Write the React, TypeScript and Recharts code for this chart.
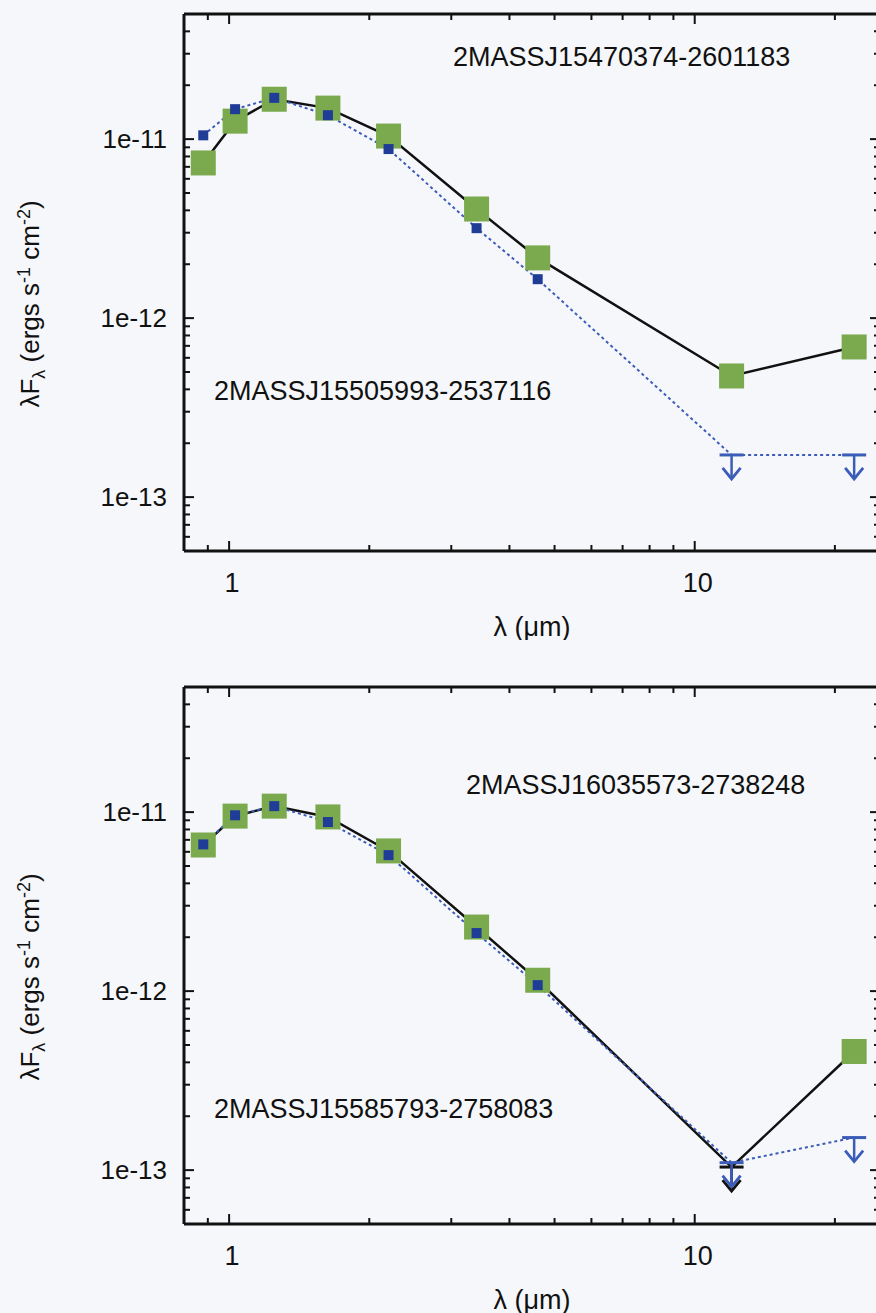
import { Line, LineChart, XAxis, YAxis } from "recharts";

// wavelengths (um): Z, Y, J, H, K, W1, W2, W3, W4
const wavelengths = [0.88, 1.03, 1.25, 1.63, 2.2, 3.4, 4.6, 12, 22];

const topObs = [7.36e-12, 1.26e-11, 1.67e-11, 1.49e-11, 1.04e-11, 4.07e-12, 2.17e-12, 4.75e-13, 6.9e-13];
const topObsLimit = [false, false, false, false, false, false, false, false, false];
const topModel = [1.05e-11, 1.47e-11, 1.7e-11, 1.36e-11, 8.8e-12, 3.18e-12, 1.65e-12, 1.72e-13, 1.72e-13];
const topModelLimit = [false, false, false, false, false, false, false, true, true];

const botObs = [6.55e-12, 9.5e-12, 1.08e-11, 9.4e-12, 6.07e-12, 2.28e-12, 1.15e-12, 1.04e-13, 4.6e-13];
const botObsLimit = [false, false, false, false, false, false, false, true, false];
const botModel = [6.6e-12, 9.6e-12, 1.08e-11, 8.8e-12, 5.75e-12, 2.11e-12, 1.08e-12, 1.1e-13, 1.52e-13];
const botModelLimit = [false, false, false, false, false, false, false, true, true];

const xMajor = [1, 10];
const xMinor = [0.9, 2, 3, 4, 5, 6, 7, 8, 9, 20];
const yMajor = [1e-13, 1e-12, 1e-11];
const yMinor = [
  6e-14, 7e-14, 8e-14, 9e-14,
  2e-13, 3e-13, 4e-13, 5e-13, 6e-13, 7e-13, 8e-13, 9e-13,
  2e-12, 3e-12, 4e-12, 5e-12, 6e-12, 7e-12, 8e-12, 9e-12,
  2e-11, 3e-11, 4e-11,
];
const yLabels = ["1e-13", "1e-12", "1e-11"];

const FONT = "'Liberation Sans', Arial, Helvetica, sans-serif";
const GREEN = "#7aaa4d";
const BLUE_LINE = "#3b5cb8";
const BLUE_DOT = "#1f3d96";

const isMajor = (v: number, majors: number[]) =>
  majors.some((m) => Math.abs(v - m) / m < 1e-6);

function UpperLimit({ cx, cy, color }: any) {
  return (
    <g>
      <line x1={cx - 12} x2={cx + 12} y1={cy} y2={cy} stroke={color} strokeWidth={3} />
      <line x1={cx} x2={cx} y1={cy} y2={cy + 24} stroke={color} strokeWidth={2.5} />
      <polyline
        points={`${cx - 9},${cy + 13} ${cx},${cy + 24} ${cx + 9},${cy + 13}`}
        fill="none"
        stroke={color}
        strokeWidth={2.8}
      />
    </g>
  );
}

function BottomTick({ x, y, payload }: any) {
  const major = isMajor(payload.value, xMajor);
  return (
    <g>
      <line x1={x} x2={x} y1={y} y2={y - (major ? 10 : 6)} stroke="#111" strokeWidth={2} />
      {major && (
        <text x={x + 3} y={y + 41} textAnchor="middle" fontSize={27} fill="#111" fontFamily={FONT}>
          {payload.value}
        </text>
      )}
    </g>
  );
}

function TopTick({ x, y, payload }: any) {
  const major = isMajor(payload.value, xMajor);
  return <line x1={x} x2={x} y1={y} y2={y + (major ? 10 : 6)} stroke="#111" strokeWidth={2} />;
}

function LeftTick({ x, y, payload }: any) {
  const idx = yMajor.findIndex((m) => Math.abs(payload.value - m) / m < 1e-6);
  return (
    <g>
      <line x1={x} x2={x + (idx >= 0 ? 10 : 6)} y1={y} y2={y} stroke="#111" strokeWidth={2} />
      {idx >= 0 && (
        <text x={x - 17} y={y + 9} textAnchor="end" fontSize={26} fill="#111" fontFamily={FONT}>
          {yLabels[idx]}
        </text>
      )}
    </g>
  );
}

function RightTick({ x, y, payload }: any) {
  const major = isMajor(payload.value, yMajor);
  return <line x1={x} x2={x - (major ? 10 : 6)} y1={y} y2={y} stroke="#111" strokeWidth={2} />;
}

type PanelProps = {
  top: number;
  obs: number[];
  obsLimit: boolean[];
  model: number[];
  modelLimit: boolean[];
  nameA: string;
  nameB: string;
  nameAPos: [number, number];
  nameBTop: number;
};

function Panel({ top, obs, obsLimit, model, modelLimit, nameA, nameB, nameAPos, nameBTop }: PanelProps) {
  const data = wavelengths.map((w, i) => ({ x: w, obs: obs[i], model: model[i] }));
  const allX = [...xMinor, ...xMajor].sort((a, b) => a - b);
  const allY = [...yMinor, ...yMajor].sort((a, b) => a - b);

  const obsDot = (p: any) => {
    const { cx, cy, index } = p;
    if (obsLimit[index]) return <UpperLimit key={`o${index}`} cx={cx} cy={cy} color="#111" />;
    return <rect key={`o${index}`} x={cx - 12.5} y={cy - 12.5} width={25} height={25} fill={GREEN} />;
  };
  const modelDot = (p: any) => {
    const { cx, cy, index } = p;
    if (modelLimit[index]) return <UpperLimit key={`m${index}`} cx={cx} cy={cy} color={BLUE_LINE} />;
    return <rect key={`m${index}`} x={cx - 5} y={cy - 5} width={10} height={10} fill={BLUE_DOT} />;
  };

  return (
    <div style={{ position: "absolute", left: 0, top, width: 876, height: 640, overflow: "hidden" }}>
      <LineChart width={881} height={640} data={data} margin={{ top: 13, right: 0, bottom: 0, left: 0 }}>
        <XAxis
          xAxisId="b"
          dataKey="x"
          type="number"
          scale="log"
          domain={[0.8, 25]}
          allowDataOverflow
          ticks={allX}
          interval={0}
          height={89}
          tickSize={0}
          tickMargin={0}
          axisLine={{ stroke: "#111", strokeWidth: 3 }}
          tickLine={false}
          tick={<BottomTick />}
        />
        <XAxis
          xAxisId="t"
          orientation="top"
          dataKey="x"
          type="number"
          scale="log"
          domain={[0.8, 25]}
          allowDataOverflow
          ticks={allX}
          interval={0}
          height={1}
          tickSize={0}
          tickMargin={0}
          axisLine={{ stroke: "#111", strokeWidth: 3 }}
          tickLine={false}
          tick={<TopTick />}
        />
        <YAxis
          yAxisId="l"
          dataKey="obs"
          type="number"
          scale="log"
          domain={[5e-14, 5e-11]}
          allowDataOverflow
          ticks={allY}
          interval={0}
          width={184}
          tickSize={0}
          tickMargin={0}
          axisLine={{ stroke: "#111", strokeWidth: 3 }}
          tickLine={false}
          tick={<LeftTick />}
        />
        <YAxis
          yAxisId="r"
          dataKey="obs"
          orientation="right"
          type="number"
          scale="log"
          domain={[5e-14, 5e-11]}
          allowDataOverflow
          ticks={allY}
          interval={0}
          width={1}
          tickSize={0}
          tickMargin={0}
          axisLine={{ stroke: "#111", strokeWidth: 3 }}
          tickLine={false}
          tick={<RightTick />}
        />
        <Line
          xAxisId="b"
          yAxisId="l"
          dataKey="obs"
          type="linear"
          stroke="#111"
          strokeWidth={2.5}
          dot={obsDot}
          activeDot={false}
          isAnimationActive={false}
        />
        <Line
          xAxisId="b"
          yAxisId="l"
          dataKey="model"
          type="linear"
          stroke={BLUE_LINE}
          strokeWidth={2}
          strokeDasharray="3 3"
          dot={modelDot}
          activeDot={false}
          isAnimationActive={false}
        />
      </LineChart>
      <div style={{ position: "absolute", left: nameAPos[0], top: nameAPos[1], fontSize: 27, color: "#111", fontFamily: FONT, whiteSpace: "nowrap" }}>
        {nameA}
      </div>
      <div style={{ position: "absolute", left: 214, top: nameBTop, fontSize: 27, color: "#111", fontFamily: FONT, whiteSpace: "nowrap" }}>
        {nameB}
      </div>
      <div
        style={{
          position: "absolute",
          left: 32,
          top: 304,
          transform: "translate(-50%, -50%) rotate(-90deg)",
          fontSize: 26,
          color: "#111",
          fontFamily: FONT,
          whiteSpace: "nowrap",
        }}
      >
        λF<sub style={{ fontSize: 18 }}>λ</sub> (ergs s<sup style={{ fontSize: 18 }}>-1</sup> cm<sup style={{ fontSize: 18 }}>-2</sup>)
      </div>
      <div
        style={{
          position: "absolute",
          left: 532,
          top: 627,
          transform: "translate(-50%, -50%)",
          fontSize: 27,
          color: "#111",
          fontFamily: FONT,
          whiteSpace: "nowrap",
        }}
      >
        λ (μm)
      </div>
    </div>
  );
}

export default function App() {
  return (
    <div
      style={{
        position: "absolute",
        left: 0,
        top: 0,
        width: 876,
        height: 1313,
        background: "#f6f7fa",
        overflow: "hidden",
      }}
    >
      <Panel
        top={0}
        obs={topObs}
        obsLimit={topObsLimit}
        model={topModel}
        modelLimit={topModelLimit}
        nameA="2MASSJ15470374-2601183"
        nameB="2MASSJ15505993-2537116"
        nameAPos={[453, 42]}
        nameBTop={376}
      />
      <Panel
        top={673}
        obs={botObs}
        obsLimit={botObsLimit}
        model={botModel}
        modelLimit={botModelLimit}
        nameA="2MASSJ16035573-2738248"
        nameB="2MASSJ15585793-2758083"
        nameAPos={[466, 97]}
        nameBTop={421}
      />
    </div>
  );
}
